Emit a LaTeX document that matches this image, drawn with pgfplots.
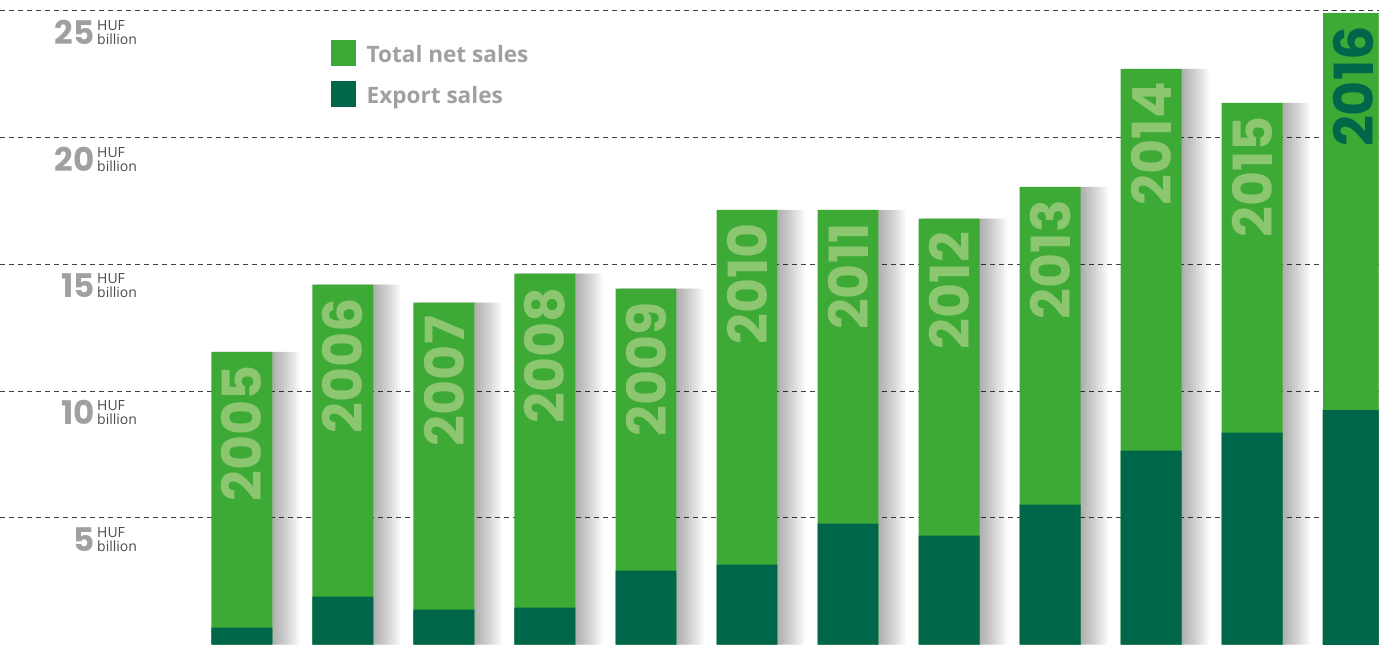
\documentclass[border=0pt]{standalone}
\usepackage{pgfplots}
\pgfplotsset{compat=1.18}
\usepackage{pgfplotstable}
\usepackage{fontspec}
\setmainfont{Open Sans}
\newfontfamily\pop{Poppins}
\definecolor{lgreen}{HTML}{3DAA35}
\definecolor{dgreen}{HTML}{00664A}
\definecolor{lbl}{HTML}{8DC670}
\definecolor{tgray}{HTML}{A0A0A0}
\definecolor{hgray}{HTML}{4A4A4A}
\pgfplotstableread{
x total export year
0  11.55 0.67 2005
1  14.20 1.89 2006
2  13.49 1.38 2007
3  14.63 1.46 2008
4  14.04 2.92 2009
5  17.15 3.15 2010
6  17.15 4.77 2011
7  16.80 4.30 2012
8  18.06 5.52 2013
9  22.71 7.65 2014
10 21.37 8.36 2015
11 24.92 9.27 2016
}\data
\pgfplotsset{shadowbar/.style={ybar, draw=none, fill=black, fill opacity=0.04, forget plot}}
\begin{document}
\begin{tikzpicture}
\begin{axis}[
  scale only axis,
  width=689.5pt, height=322.5pt,
  xmin=-2.389, xmax=11.251,
  ymin=0, ymax=25.43,
  axis line style={draw=none},
  tick style={draw=none},
  xtick=\empty,
  ytick={5,10,15,20,25},
  /pgf/number format/assume math mode=true,
  yticklabel={{\pop\bfseries\fontsize{16.3}{16.3}\selectfont\color{tgray}\pgfmathprintnumber{\tick}}\hspace{1.3pt}{\fontsize{7}{6}\selectfont\color{hgray}\begin{tabular}[b]{@{}l@{}}HUF\\billion\end{tabular}}},
  yticklabel style={anchor=north east, inner sep=0pt, xshift=68.5pt, yshift=-4.5pt},
  ymajorgrids,
  grid style={dash pattern=on 2.5pt off 2pt, color=black!75, line width=0.5pt},
  legend style={at={(0.2393,0.938)}, anchor=north west, draw=none, fill=none, inner sep=0pt,
    font=\fontsize{11.3}{13}\selectfont\bfseries\color{tgray}, row sep=6pt},
  legend cell align=left,
]
% soft shadows to the right of the bars
\addplot[shadowbar, bar width=30pt, bar shift=1.75pt] table[x=x, y=total]{\data};
\addplot[shadowbar, bar width=31.5pt, bar shift=2.5pt] table[x=x, y=total]{\data};
\addplot[shadowbar, bar width=33pt, bar shift=3.25pt] table[x=x, y=total]{\data};
\addplot[shadowbar, bar width=34.5pt, bar shift=4pt] table[x=x, y=total]{\data};
\addplot[shadowbar, bar width=36pt, bar shift=4.75pt] table[x=x, y=total]{\data};
\addplot[shadowbar, bar width=37.5pt, bar shift=5.5pt] table[x=x, y=total]{\data};
\addplot[shadowbar, bar width=39pt, bar shift=6.25pt] table[x=x, y=total]{\data};
\addplot[shadowbar, bar width=40.5pt, bar shift=7pt] table[x=x, y=total]{\data};
\addplot[shadowbar, bar width=42pt, bar shift=7.75pt] table[x=x, y=total]{\data};
\addplot[ybar, bar width=0.603, bar shift=0pt, fill=lgreen, draw=none,
  restrict x to domain=0:10,
  nodes near coords, point meta=explicit symbolic,
  nodes near coords style={rotate=90, anchor=east, font=\pop\bfseries\fontsize{27}{27}\selectfont, text=lbl, inner xsep=6.5pt, inner ysep=0pt},
  legend image code/.code={\fill[lgreen] (0pt,-5.5pt) rectangle (12.5pt,7.5pt); \path (16pt,0pt);}]
  table[x=x, y=total, meta=year]{\data};
\addlegendentry{Total net sales}
\addplot[ybar, bar width=0.603, bar shift=0pt, fill=dgreen, draw=none,
  legend image code/.code={\fill[dgreen] (0pt,-5.5pt) rectangle (12.5pt,7.5pt); \path (16pt,0pt);}]
  table[x=x, y=export]{\data};
\addlegendentry{Export sales}
\addplot[ybar, bar width=0.603, bar shift=0pt, fill=lgreen, draw=none, forget plot,
  restrict x to domain=11:11,
  nodes near coords, point meta=explicit symbolic,
  nodes near coords style={rotate=90, anchor=east, font=\pop\bfseries\fontsize{27}{27}\selectfont, text=dgreen, inner xsep=6.5pt, inner ysep=0pt}]
  table[x=x, y=total, meta=year]{\data};
\addplot[ybar, bar width=0.603, bar shift=0pt, fill=dgreen, draw=none, forget plot,
  restrict x to domain=11:11]
  table[x=x, y=export]{\data};
\end{axis}
\end{tikzpicture}
\end{document}
